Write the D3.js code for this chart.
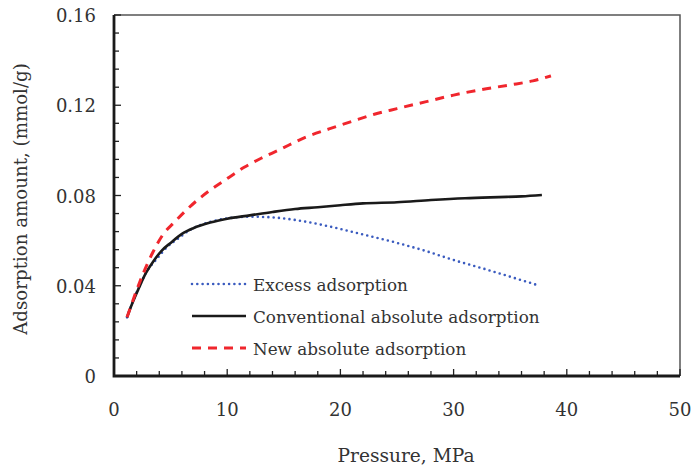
<!DOCTYPE html>
<html><head><meta charset="utf-8">
<script src="https://cdn.jsdelivr.net/npm/d3@7"></script>
<style>body{margin:0;background:#fff}svg{display:block}</style>
</head><body><svg id="c" width="691" height="472"></svg>
<script>
const xTicks = [0, 10, 20, 30, 40, 50];
const yTicks = [0, 0.04, 0.08, 0.12, 0.16];
const yTickLabels = ["0", "0.04", "0.08", "0.12", "0.16"];
const seriesNames = ["Excess adsorption", "Conventional absolute adsorption", "New absolute adsorption"];

const excessP = [1.15, 2, 2.8, 3.8, 4.7, 5.7, 6.7, 8.5, 10.2, 12, 14, 16.2, 19.1, 22, 25, 27.6, 30, 32.9, 35, 37.4];
const excessV = [0.026, 0.037, 0.0455, 0.052, 0.0572, 0.061, 0.0647, 0.0683, 0.0700, 0.0706, 0.0703, 0.0690, 0.0662, 0.0627, 0.0590, 0.0553, 0.0514, 0.0472, 0.0440, 0.0403];

const convP = [1.15, 1.6, 2.2, 2.8, 3.5, 4.2, 5, 6, 7, 8.5, 10, 12, 14, 16, 18, 20, 22, 25, 28, 31, 34, 36, 37.8];
const convV = [0.026, 0.032, 0.039, 0.0455, 0.051, 0.0555, 0.0590, 0.0630, 0.0655, 0.0680, 0.0697, 0.0712, 0.0727, 0.0740, 0.0748, 0.0757, 0.0765, 0.0770, 0.0780, 0.0788, 0.0793, 0.0796, 0.0802];

const newP = [1.15, 2, 2.6, 3.4, 4.3, 5.3, 6.4, 7.5, 8.5, 10, 11.5, 13, 14.5, 17, 19, 21, 23, 25, 27.5, 30, 32.5, 35, 37, 38.6];
const newV = [0.026, 0.038, 0.0457, 0.0545, 0.0625, 0.068, 0.0736, 0.0785, 0.0824, 0.0875, 0.0925, 0.0965, 0.100, 0.106, 0.1095, 0.1128, 0.116, 0.1185, 0.1215, 0.1245, 0.127, 0.129, 0.1308, 0.1330];

const L = 114, R = 680, T = 15, B = 376;
const FONT = "DejaVu Serif";
const svg = d3.select("#c");
const x = d3.scaleLinear().domain([0, 50]).range([L, R]);
const y = d3.scaleLinear().domain([0, 0.16]).range([B, T]);

svg.append("path").attr("d", `M${L},${T}H${R}V${B}`).attr("fill", "none").attr("stroke", "#555").attr("stroke-width", 1.5);

const xMinor = d3.range(0, 50.01, 2);
const yMinor = d3.range(0, 0.1601, 0.008);
svg.append("g").selectAll("line").data(xMinor).join("line")
  .attr("x1", d => x(d)).attr("x2", d => x(d)).attr("y1", B).attr("y2", d => B - (Math.abs(d % 10) < 1e-6 ? 7 : 5))
  .attr("stroke", "#222").attr("stroke-width", 1.3);
svg.append("g").selectAll("line").data(yMinor).join("line")
  .attr("y1", d => y(d)).attr("y2", d => y(d)).attr("x1", L).attr("x2", (d, i) => L + (i % 5 === 0 ? 7 : 5))
  .attr("stroke", "#222").attr("stroke-width", 1.3);

svg.append("path").attr("d", `M${L},${T}V${B}H${R}`).attr("fill", "none").attr("stroke", "#1a1a1a").attr("stroke-width", 2.8);

const txt = sel => sel.attr("font-family", FONT).attr("fill", "#333");

svg.append("g").selectAll("text").data(xTicks).join("text").call(txt)
  .attr("x", d => x(d)).attr("y", 416).attr("text-anchor", "middle").attr("font-size", 18).text(d => d);
svg.append("g").selectAll("text").data(yTicks).join("text").call(txt)
  .attr("x", 96).attr("y", d => y(d) + 7).attr("text-anchor", "end").attr("font-size", 18).text((d, i) => yTickLabels[i]);

svg.append("text").call(txt).attr("x", 406).attr("y", 462).attr("text-anchor", "middle").attr("font-size", 18.6).text("Pressure, MPa");
svg.append("text").call(txt).attr("transform", "translate(27,199) rotate(-90)").attr("text-anchor", "middle").attr("font-size", 18.2).text("Adsorption amount, (mmol/g)");

const line = d3.line().x(d => x(d[0])).y(d => y(d[1])).curve(d3.curveMonotoneX);
const styles = [
  {color: "#3a5bbf", width: 2.6, dash: "0,5.3", cap: "round"},
  {color: "#1a1a1a", width: 2.6, dash: null, cap: "butt"},
  {color: "#f0262d", width: 3, dash: "9,7", cap: "butt"}
];
const series = [
  excessP.map((p, i) => [p, excessV[i]]),
  convP.map((p, i) => [p, convV[i]]),
  newP.map((p, i) => [p, newV[i]])
];
series.forEach((s, i) => {
  const st = styles[i];
  svg.append("path").attr("d", line(s)).attr("fill", "none").attr("stroke", st.color)
    .attr("stroke-width", st.width).attr("stroke-dasharray", st.dash).attr("stroke-linecap", st.cap);
});

const legY = [284, 316, 348];
seriesNames.forEach((n, i) => {
  const st = styles[i];
  svg.append("line").attr("x1", 192).attr("x2", 246).attr("y1", legY[i]).attr("y2", legY[i])
    .attr("stroke", st.color).attr("stroke-width", st.width).attr("stroke-dasharray", st.dash).attr("stroke-linecap", st.cap);
  svg.append("text").call(txt).attr("x", 253).attr("y", legY[i] + 7).attr("font-size", 16.8).text(n);
});
</script></body></html>
